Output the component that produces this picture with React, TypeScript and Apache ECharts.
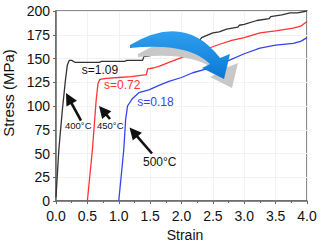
import React, { useEffect, useRef } from "react";
import * as echarts from "echarts";

const xTicks = [0, 0.5, 1, 1.5, 2, 2.5, 3, 3.5, 4];
const yTicks = [0, 25, 50, 75, 100, 125, 150, 175, 200];

const strain400 = [0, 0.045, 0.1, 0.15, 0.18, 0.21, 0.25, 0.3, 0.5, 0.7, 0.72, 0.9, 1.1, 1.12, 1.3, 1.38, 1.4, 1.5, 1.6, 1.65, 1.8, 1.95, 2.0, 2.13, 2.3, 2.32, 2.5, 2.6, 2.72, 2.9, 2.92, 3.0, 3.2, 3.4, 3.42, 3.6, 3.73, 3.85, 4.0];
const stress400 = [4, 54, 95, 127, 143, 148, 148, 146, 146, 146, 147, 147, 147, 148, 148, 148, 152, 153, 156, 159, 162, 164, 166, 168, 170, 172, 177, 178, 181, 183, 185, 186, 190, 192, 194, 196, 198, 198, 200];

const strain450 = [0.5, 0.58, 0.64, 0.67, 0.7, 0.8, 1.0, 1.2, 1.44, 1.46, 1.55, 1.65, 1.8, 2.0, 2.18, 2.4, 2.61, 2.8, 3.0, 3.25, 3.5, 3.78, 3.9, 4.0];
const stress450 = [0, 54, 106, 124, 128, 129, 130, 131, 133, 139, 140, 142, 146, 151, 156, 160, 165, 169, 172, 177, 179, 182, 184, 189];

const strain500 = [1.0, 1.08, 1.11, 1.14, 1.22, 1.32, 1.48, 1.65, 1.8, 2.0, 2.18, 2.4, 2.56, 2.72, 3.0, 3.25, 3.5, 3.78, 3.9, 4.0];
const stress500 = [0, 54, 86, 100, 108, 114, 117, 122, 126, 130, 135, 139, 142, 147, 155, 161, 164, 166, 168, 172];

const sLabels = ["s=1.09", "s=0.72", "s=0.18"];
const tempLabels = ["400°C", "450°C", "500°C"];
const colors = ["#333333", "#ff3333", "#3344ee"];

const ARROW_D =
  "M130,45 Q185,12 220,58 L230,54 L224,79 L202,68 L210,64 Q188,42 130,48 Z";

let registered = false;
function ensureShape() {
  if (registered) return;
  echarts.graphic.registerShape("bigArrow", echarts.graphic.extendPath(ARROW_D, {}) as any);
  registered = true;
}

function arrow(tx: number, ty: number, hx: number, hy: number) {
  const dx = hx - tx;
  const dy = hy - ty;
  const len = Math.sqrt(dx * dx + dy * dy);
  const ux = dx / len;
  const uy = dy / len;
  const hl = 12;
  const hw = 6;
  const bx = hx - ux * hl;
  const by = hy - uy * hl;
  return [
    {
      type: "line",
      shape: { x1: tx, y1: ty, x2: bx + ux * 2, y2: by + uy * 2 },
      style: { stroke: "#111", lineWidth: 2.6 },
      z: 100,
    },
    {
      type: "polygon",
      shape: {
        points: [
          [hx, hy],
          [bx - uy * hw, by + ux * hw],
          [bx + uy * hw, by - ux * hw],
        ],
      },
      style: { fill: "#111" },
      z: 100,
    },
  ];
}

export default function App() {
  const ref = useRef<HTMLDivElement>(null);
  useEffect(() => {
    if (!ref.current) return;
    ensureShape();
    const chart = echarts.init(ref.current, null, { renderer: "svg" });
    const pairs = (xs: number[], ys: number[]) => xs.map((x, i) => [x, ys[i]]);
    const font = "Liberation Sans, Arial, sans-serif";
    const option: any = {
      animation: false,
      grid: {
        left: 56,
        right: 14,
        top: 11,
        bottom: 43,
        show: true,
        borderColor: "#666",
        borderWidth: 1.5,
        outerBoundsMode: "none",
        containLabel: false,
      },
      xAxis: {
        type: "value",
        min: 0,
        max: 4,
        interval: 0.5,
        name: "Strain",
        nameLocation: "middle",
        nameGap: 25,
        nameTextStyle: { fontSize: 14, color: "#111", fontFamily: font, padding: [0, 0, 0, 7] },
        axisLine: { lineStyle: { color: "#666", width: 1.5 } },
        axisTick: { show: true, inside: false, length: 3, lineStyle: { color: "#666" } },
        minorTick: { show: true, splitNumber: 2, length: 2, lineStyle: { color: "#666" } },
        axisLabel: {
          fontSize: 14,
          color: "#111",
          fontFamily: font,
          margin: 8,
          formatter: (v: number) => v.toFixed(1),
        },
        splitLine: { show: true, lineStyle: { color: "#f2f2f2", width: 1 } },
      },
      yAxis: {
        type: "value",
        min: 0,
        max: 200,
        interval: 25,
        name: "Stress (MPa)",
        nameLocation: "middle",
        nameGap: 36,
        nameTextStyle: { fontSize: 15, color: "#111", fontFamily: font, padding: [0, 0, 0, 26] },
        axisLine: { show: true, lineStyle: { color: "#666", width: 1.5 } },
        axisTick: { show: true, inside: false, length: 3, lineStyle: { color: "#666" } },
        axisLabel: { fontSize: 14, color: "#111", fontFamily: font, margin: 6 },
        splitLine: { show: true, lineStyle: { color: "#f2f2f2", width: 1 } },
      },
      series: [
        { name: tempLabels[0], type: "line", data: pairs(strain400, stress400), showSymbol: false, lineStyle: { color: colors[0], width: 1.3 }, itemStyle: { color: colors[0] } },
        { name: tempLabels[1], type: "line", data: pairs(strain450, stress450), showSymbol: false, lineStyle: { color: colors[1], width: 1.3 }, itemStyle: { color: colors[1] } },
        { name: tempLabels[2], type: "line", data: pairs(strain500, stress500), showSymbol: false, lineStyle: { color: colors[2], width: 1.3 }, itemStyle: { color: colors[2] } },
      ],
      graphic: [
        { type: "bigArrow", x: 8, y: 9, style: { fill: "#c8c8c8" }, z: 90 },
        {
          type: "bigArrow",
          x: 0,
          y: 0,
          style: {
            fill: new echarts.graphic.LinearGradient(0, 0, 0, 1, [
              { offset: 0, color: "#2f9ff0" },
              { offset: 1, color: "#0a78d4" },
            ]),
          },
          z: 91,
        },
        { type: "text", x: 81.7, y: 70, style: { text: sLabels[0], fill: "#111", font: `12px ${font}`, verticalAlign: "middle" }, z: 100 },
        { type: "text", x: 104, y: 85, style: { text: sLabels[1], fill: colors[1], font: `12px ${font}`, verticalAlign: "middle" }, z: 100 },
        { type: "text", x: 137.3, y: 101.5, style: { text: sLabels[2], fill: colors[2], font: `12px ${font}`, verticalAlign: "middle" }, z: 100 },
        { type: "text", x: 65, y: 125, style: { text: tempLabels[0], fill: "#111", font: `9.5px ${font}`, verticalAlign: "middle" }, z: 100 },
        { type: "text", x: 97, y: 125, style: { text: tempLabels[1], fill: "#111", font: `9.5px ${font}`, verticalAlign: "middle" }, z: 100 },
        { type: "text", x: 143, y: 162.3, style: { text: tempLabels[2], fill: "#111", font: `12px ${font}`, verticalAlign: "middle" }, z: 100 },
        ...arrow(81, 120.7, 66, 93),
        ...arrow(110, 119, 99, 106),
        ...arrow(152, 153.5, 129.5, 127.5),
      ],
    };
    chart.setOption(option);
    return () => chart.dispose();
  }, []);
  return <div ref={ref} style={{ width: 321, height: 244, position: "absolute", left: 0, top: 0 }} />;
}
